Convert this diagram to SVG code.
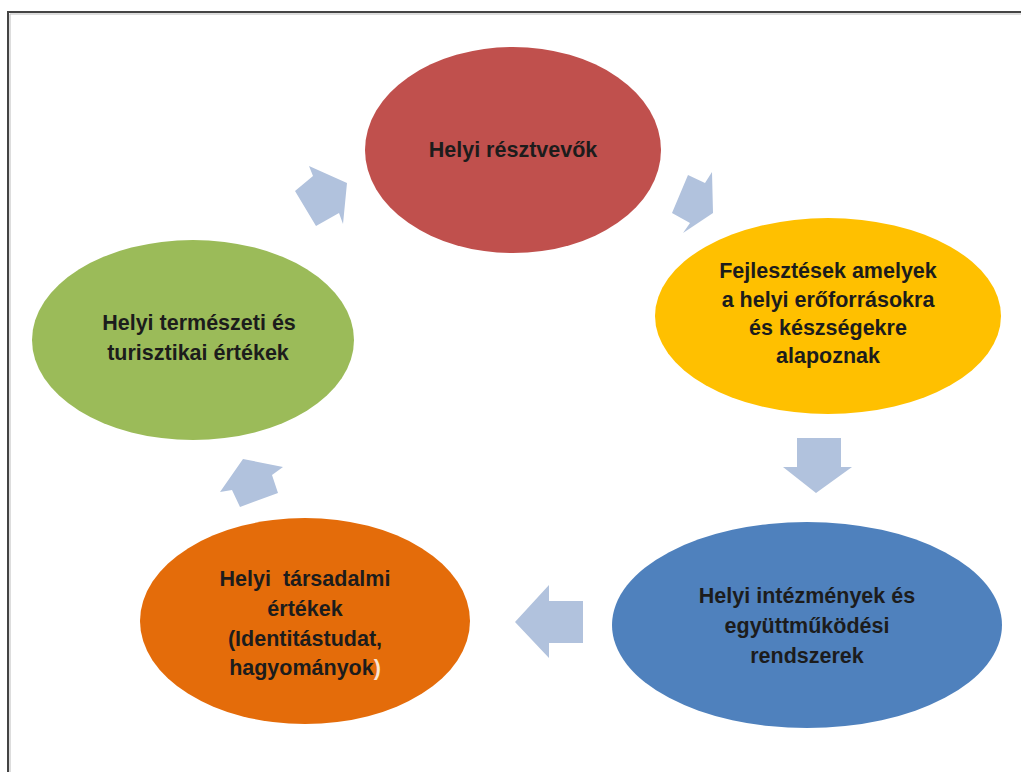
<svg xmlns="http://www.w3.org/2000/svg" width="1021" height="772" viewBox="0 0 1021 772">
<style>
.t{font-family:"Liberation Sans","DejaVu Sans",sans-serif;font-weight:bold;font-size:21.5px;fill:#1c1c1c;text-anchor:middle}
.arr{fill:#b1c2dd}
</style>
<rect x="0" y="0" width="1021" height="772" fill="#ffffff"/>
<path d="M8,772 V12 H1021" fill="none" stroke="#444" stroke-width="2"/>
<path d="M10,772 V14 H1021" fill="none" stroke="#bbb" stroke-width="1"/>
<g id="connectors">
<polygon class="arr" points="309,166 313,176 295,191 316,226 339,213 343,224 347,183"/>
<polygon class="arr" points="688,175 705,183 712,172 713,213 683,233 690,223 672,213"/>
<polygon class="arr" points="797,438 841,438 841,467 852,467 816,493 783,467 797,467"/>
<polygon class="arr" points="583,601 583,643 549,643 549,658 515,622 549,585 549,601"/>
<polygon class="arr" points="243,459 283,467 272,475 278,493 240,507 232,490 220,492"/>
</g>
<g id="node-resztvevok">
<ellipse cx="513" cy="150" rx="148" ry="103" fill="#c0504d"/>
<text class="t" x="513" y="157">Helyi résztvevők</text>
</g>
<g id="node-fejlesztesek">
<ellipse cx="828" cy="316" rx="173" ry="98" fill="#ffc000"/>
<text class="t" x="828" y="278">Fejlesztések amelyek</text>
<text class="t" x="828" y="307">a helyi erőforrásokra</text>
<text class="t" x="828" y="335">és készségekre</text>
<text class="t" x="828" y="363">alapoznak</text>
</g>
<g id="node-intezmenyek">
<ellipse cx="807" cy="625" rx="195" ry="103" fill="#4f81bd"/>
<text class="t" x="807" y="603">Helyi intézmények és</text>
<text class="t" x="807" y="633">együttműködési</text>
<text class="t" x="807" y="663">rendszerek</text>
</g>
<g id="node-tarsadalmi">
<ellipse cx="305" cy="621" rx="165" ry="103" fill="#e46c0a"/>
<text class="t" x="305" y="586" style="white-space:pre">Helyi  társadalmi</text>
<text class="t" x="305" y="616">értékek</text>
<text class="t" x="305" y="646">(Identitástudat,</text>
<text class="t" x="305" y="675">hagyományok<tspan fill="#fbe6d2">)</tspan></text>
</g>
<g id="node-termeszeti">
<ellipse cx="193" cy="340" rx="161" ry="100" fill="#9bbb59"/>
<text class="t" x="199" y="330">Helyi természeti és</text>
<text class="t" x="198" y="360">turisztikai értékek</text>
</g>
</svg>
